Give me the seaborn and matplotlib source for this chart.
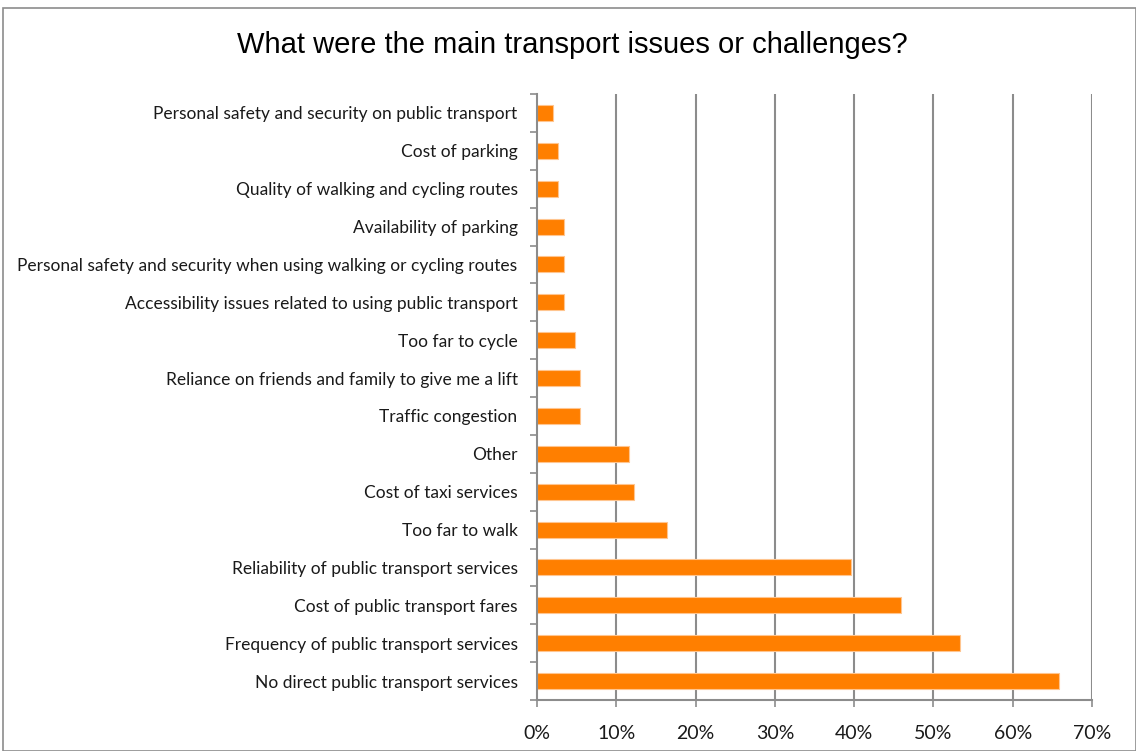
import matplotlib
matplotlib.use("Agg")
import matplotlib.pyplot as plt
import seaborn as sns
import pandas as pd
import numpy as np
from matplotlib.ticker import PercentFormatter, FixedLocator
from matplotlib.patches import Rectangle

issues = [
    "Personal safety and security on public transport",
    "Cost of parking",
    "Quality of walking and cycling routes",
    "Availability of parking",
    "Personal safety and security when using walking or cycling routes",
    "Accessibility issues related to using public transport",
    "Too far to cycle",
    "Reliance on friends and family to give me a lift",
    "Traffic congestion",
    "Other",
    "Cost of taxi services",
    "Too far to walk",
    "Reliability of public transport services",
    "Cost of public transport fares",
    "Frequency of public transport services",
    "No direct public transport services",
]
share_pct = [2.0, 2.7, 2.7, 3.4, 3.4, 3.4, 4.8, 5.4, 5.4, 11.6, 12.2, 16.4,
             39.6, 45.9, 53.3, 65.8]
x_ticks = [0, 10, 20, 30, 40, 50, 60, 70]

df = pd.DataFrame({"issue": issues, "share": share_pct})

sns.set_theme(style="white")
plt.rcParams["font.family"] = ["Lato", "DejaVu Sans"]

fig = plt.figure(figsize=(11.36, 7.51), dpi=100)
ax = fig.add_axes([537 / 1136, 1 - 700 / 751, (1092 - 537) / 1136, (700 - 94) / 751])

grid_col = "#8c8c8c"
for t in x_ticks[1:]:
    ax.axvline(t, color=grid_col, lw=1.5, zorder=0)

sns.barplot(data=df, x="share", y="issue", orient="h", color="#ff7f00",
            saturation=1, width=0.42, edgecolor="#ffc58f", linewidth=0.8,
            ax=ax, zorder=2)

ax.set_xlim(0, 70)
ax.set_ylim(len(issues) - 0.5, -0.5)
ax.set_xlabel("")
ax.set_ylabel("")

ax.xaxis.set_major_locator(FixedLocator(x_ticks))
ax.xaxis.set_major_formatter(PercentFormatter(decimals=0))
ax.tick_params(axis="x", which="major", direction="out", length=5, width=1.2,
               color=grid_col, labelsize=14, pad=13, labelcolor="#1a1a1a",
               bottom=True)

ax.set_yticks(range(len(issues)))
ax.set_yticklabels(issues)
ax.tick_params(axis="y", which="major", length=0, labelsize=12.5, pad=14,
               labelcolor="#1a1a1a")
ax.yaxis.set_minor_locator(FixedLocator(np.arange(-0.5, len(issues), 1.0)))
ax.tick_params(axis="y", which="minor", direction="out", length=5, width=1.2,
               color=grid_col, left=True)

for side in ["top", "right"]:
    ax.spines[side].set_visible(False)
for side in ["left", "bottom"]:
    ax.spines[side].set_color(grid_col)
    ax.spines[side].set_linewidth(1.5)

fig.text(572 / 1136, 1 - 45 / 751, "What were the main transport issues or challenges?",
         ha="center", va="center", fontsize=21, family=["Liberation Sans", "DejaVu Sans"],
         color="#000000")

fig.patches.append(Rectangle((3 / 1136, 0), 1 - 3 / 1136, 1 - 8 / 751,
                             transform=fig.transFigure, fill=False,
                             edgecolor="#8c8c8c", lw=1.2))

fig.savefig("out.png", dpi=100)
